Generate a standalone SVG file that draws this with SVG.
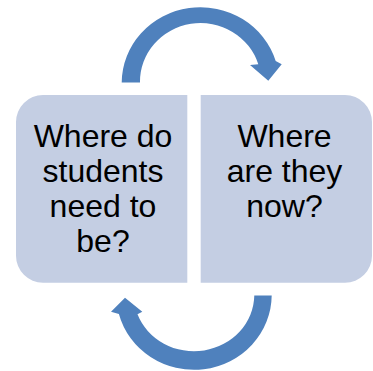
<svg xmlns="http://www.w3.org/2000/svg" width="373" height="371" viewBox="0 0 373 371">
<style>
.box{fill:#C4CEE3;}
.arrow{fill:#4F81BD;}
.t{font-family:"Liberation Sans",Arial,sans-serif;font-size:32px;fill:#000;text-anchor:middle;}
</style>
<rect width="373" height="371" fill="#FFFFFF"/>
<g id="connectors">
<path class="arrow" d="M121.7 82.5 A78.7 75.8 0 0 1 275.7 61 L281.7 64.3 L268.3 80.7 L250 65 L258.3 64.3 A60.5 58.5 0 0 0 140 82.5 Z"/>
<path class="arrow" d="M271.7 295.5 A77.7 75 0 0 1 118.9 314 L111 311.7 L125 297.7 L142.3 311.7 L137.5 314.3 A60.3 56.7 0 0 0 254.3 295.5 Z"/>
</g>
<g id="node-left">
<path class="box" d="M43 95 H187.3 V282.7 H43 A27 27 0 0 1 16 255.7 V122 A27 27 0 0 1 43 95 Z"/>
<text class="t" x="103" y="146.7">Where do</text>
<text class="t" x="103" y="181.7">students</text>
<text class="t" x="103" y="216.7">need to</text>
<text class="t" x="103" y="251.7">be?</text>
</g>
<g id="node-right">
<path class="box" d="M200.7 95 H345 A27 27 0 0 1 372 122 V255.7 A27 27 0 0 1 345 282.7 H200.7 Z"/>
<text class="t" x="284.5" y="146.7">Where</text>
<text class="t" x="284.5" y="181.7">are they</text>
<text class="t" x="284.5" y="216.7">now?</text>
</g>
</svg>
